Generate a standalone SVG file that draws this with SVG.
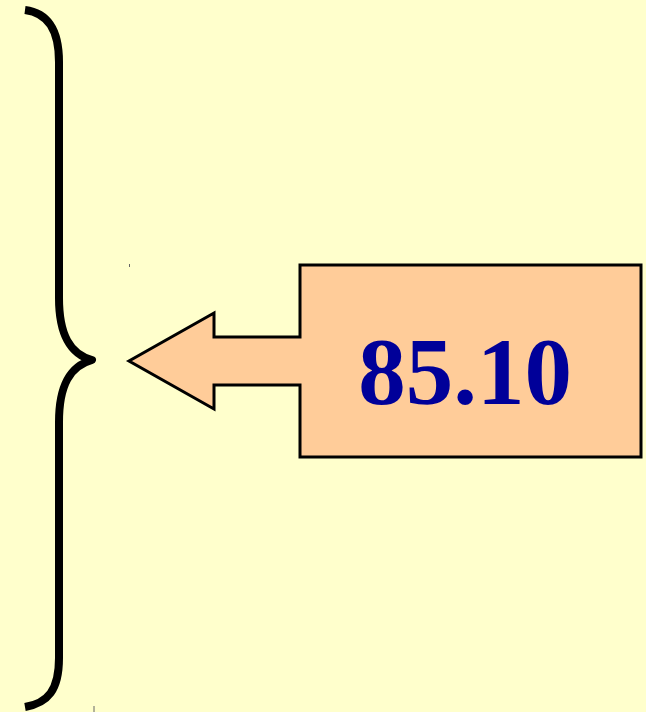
<svg xmlns="http://www.w3.org/2000/svg" width="646" height="712" viewBox="0 0 646 712">
<style>
.brace{fill:none;stroke:#000;stroke-width:8;stroke-linejoin:round}
.callout{fill:#FFCC99;stroke:#000;stroke-width:3;stroke-linejoin:miter}
.label{font-family:"Liberation Serif",serif;font-weight:bold;font-size:95px;fill:#000099;text-anchor:middle}
</style>
<rect x="0" y="0" width="646" height="712" fill="#FFFFCC"/>
<g id="connectors">
<path class="brace" d="M25,10 C48,13 59,30 59,62 L59,298 C59,335 70,354 92,360 C70,366 59,385 59,422 L59,658 C59,690 48,703 25,707"/>
<line x1="94" y1="706" x2="94" y2="712" stroke="#666" stroke-width="1"/>
<line x1="129.5" y1="264" x2="129.5" y2="267" stroke="#666" stroke-width="1"/>
</g>
<g id="callout">
<path class="callout" d="M300,265 L641,265 L641,457 L300,457 L300,385 L214,385 L214,409 L129,361 L214,313 L214,337 L300,337 Z"/>
<text class="label" x="465" y="404">85.10</text>
</g>
</svg>
